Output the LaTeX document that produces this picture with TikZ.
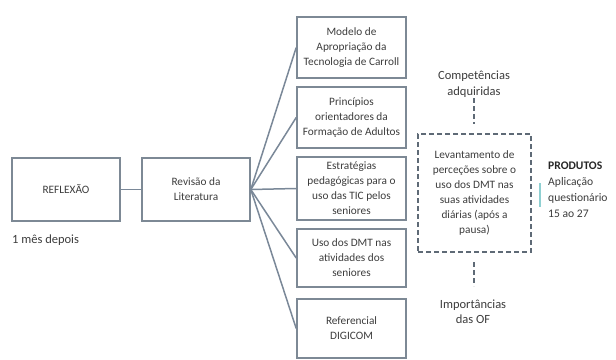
\documentclass[tikz,border=0pt]{standalone}
\usepackage{fontspec}
\setmainfont{Carlito}
\begin{document}
\begin{tikzpicture}[x=1pt,y=-1pt,
  every node/.style={font=\fontsize{11.3}{15}\selectfont, text=txt},
  sbox/.style={draw=boxc, line width=1.6pt, rectangle, align=center, inner sep=0pt},
  conn/.style={draw=linec, line width=1.5pt},
  dbox/.style={draw=dboxc, line width=1.3pt, dash pattern=on 5pt off 3pt, rectangle, align=center, inner sep=0pt},
  dconn/.style={draw=dboxc, line width=1.3pt, dash pattern=on 5pt off 3pt},
  lbl/.style={align=center, inner sep=0pt},
  biglbl/.style={lbl, font=\fontsize{12.5}{15.5}\selectfont}
]
\definecolor{boxc}{HTML}{7D8995}
\definecolor{linec}{HTML}{7A8898}
\definecolor{dboxc}{HTML}{5E6A76}
\definecolor{txt}{HTML}{3C3C3C}
\definecolor{teal}{HTML}{8FD0D2}
\useasboundingbox (0,0) rectangle (616,359);

\node[sbox, minimum width=108pt, minimum height=63pt] (refl) at (66,189.5) {REFLEXÃO};
\node[sbox, minimum width=108pt, minimum height=63pt] (rev) at (196,189.5) {Revisão da\\Literatura};
\node[biglbl, anchor=west] (mes) at (12,240) {1 mês depois};

\node[sbox, minimum width=109pt, minimum height=61pt] (b1) at (351.5,47.5) {Modelo de\\Apropriação da\\Tecnologia de Carroll};
\node[sbox, minimum width=109pt, minimum height=61pt] (b2) at (351.5,117.5) {Princípios\\orientadores da\\Formação de Adultos};
\node[sbox, minimum width=109pt, minimum height=63pt] (b3) at (351.5,188.5) {Estratégias\\pedagógicas para o\\uso das TIC pelos\\seniores};
\node[sbox, minimum width=109pt, minimum height=58pt] (b4) at (351.5,258) {Uso dos DMT nas\\atividades dos\\seniores};
\node[sbox, minimum width=109pt, minimum height=59pt] (b5) at (351.5,328.5) {Referencial\\DIGICOM};

\draw[conn] (refl.east) -- (rev.west);
\foreach \b in {b1,b2,b3,b4,b5} \draw[conn] (rev.east) -- (\b.west);

\node[dbox, minimum width=113pt, minimum height=118pt] (dq) at (474.5,193) {Levantamento de\\perceções sobre o\\uso dos DMT nas\\suas atividades\\diárias (após a\\pausa)};

\node[biglbl] (comp) at (474,84) {Competências\\adquiridas};
\node[biglbl] (imp) at (473,311.5) {Importâncias\\das OF};
\coordinate (c1) at (474,98);
\coordinate (c2) at (474,124);
\coordinate (c3) at (474,262);
\coordinate (c4) at (474,286);
\draw[dconn] (c1) -- (c2);
\draw[dconn] (c3) -- (c4);

\node[lbl, anchor=north west, align=left, font=\fontsize{11.6}{16}\selectfont] (prod) at (548,162) {\textbf{\color{black!85}PRODUTOS}\\Aplicação\\questionário\\15 ao 27};
\coordinate (t1) at (540,183);
\coordinate (t2) at (540,207);
\draw[draw=teal, line width=1.5pt] (t1) -- (t2);
\end{tikzpicture}
\end{document}
